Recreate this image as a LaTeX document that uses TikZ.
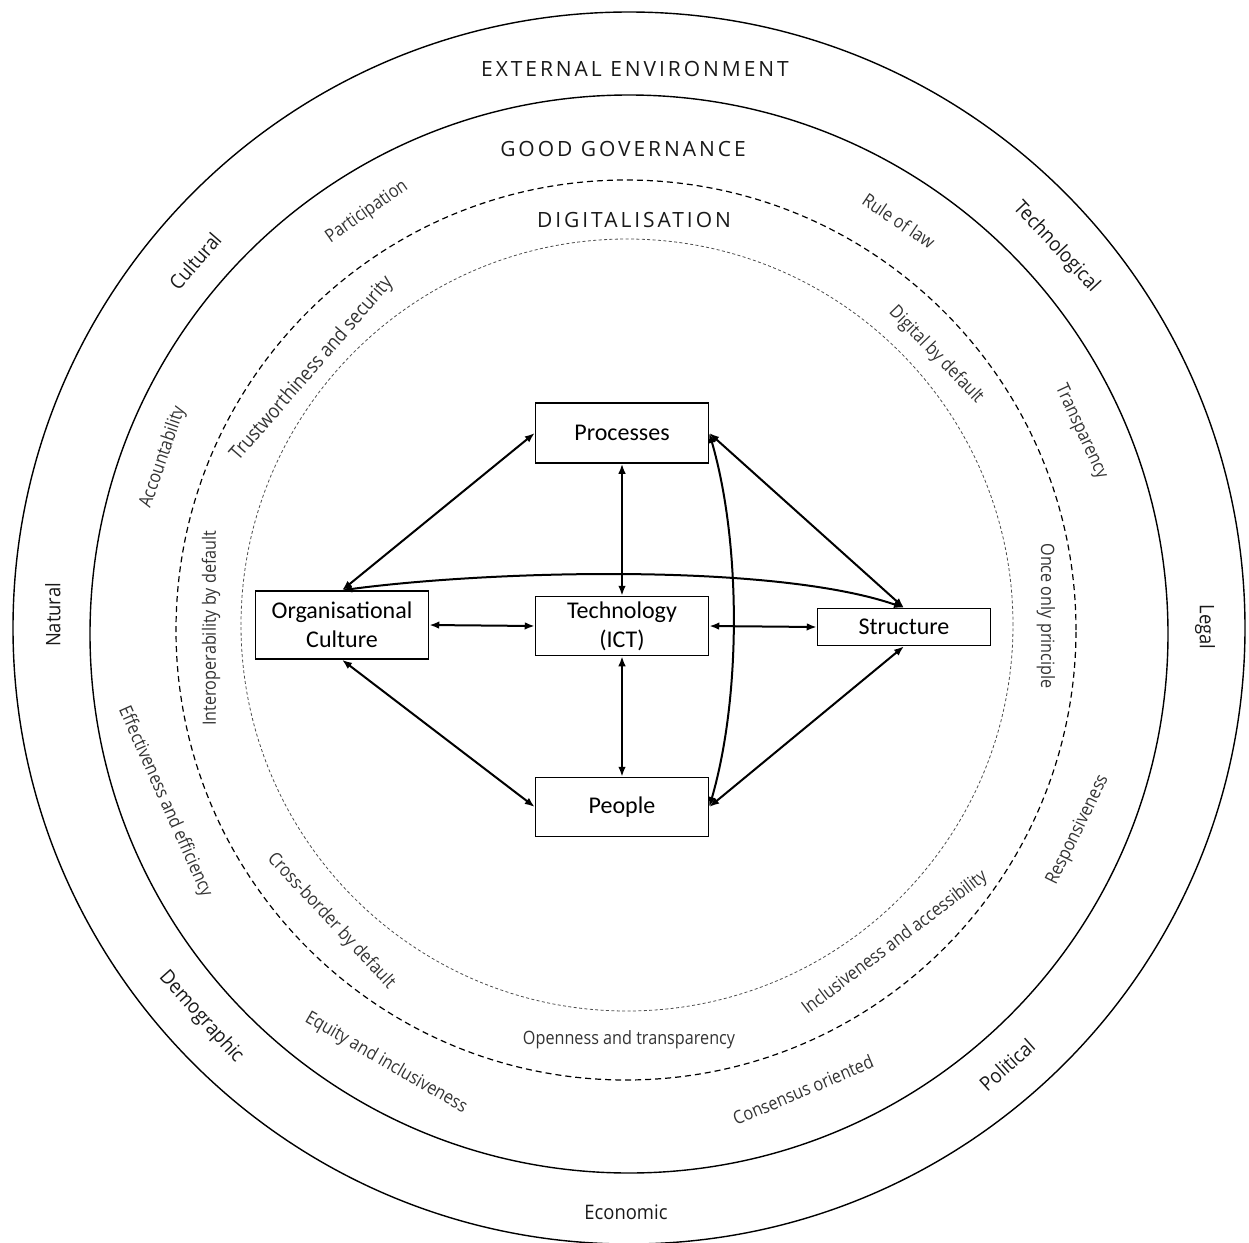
\documentclass[tikz,border=0pt]{standalone}
\usepackage{fontspec}
\setmainfont{Carlito}
\newfontfamily\osreg{Open Sans}[FakeStretch=0.92]
\newfontfamily\oslt{Open Sans}[FakeStretch=0.88]
\newfontfamily\oshead{Open Sans}[LetterSpace=14]
\usetikzlibrary{arrows.meta}
\definecolor{txtgray}{HTML}{333333}
\begin{document}
\begin{tikzpicture}[x=0.5pt,y=-0.5pt,
  >={Latex[length=5pt,width=3.8pt]},
  box/.style={draw=black, line width=0.75pt, minimum width=86.5pt, inner sep=0pt, align=center, font=\fontsize{12}{14.5}\selectfont},
  link/.style={<->, line width=1pt},
  outerlab/.style={font=\osreg\fontsize{10}{12}\selectfont, text=black!90, inner sep=0pt},
  innerlab/.style={font=\oslt\fontsize{9.2}{11}\selectfont, text=txtgray, inner sep=0pt},
  headlab/.style={font=\oshead\fontsize{10.5}{12}\selectfont, text=black!90, inner sep=0pt},
  ring/.style={line width=0.7pt},
  dashring/.style={line width=0.6pt, dash pattern=on 3pt off 2pt},
  dotring/.style={line width=0.4pt, black!70, dash pattern=on 1.5pt off 1.2pt},
]
\useasboundingbox (0,0) rectangle (1249,1243);

% rings
\draw[ring] (629,628) circle[radius=308pt];
\draw[ring] (629,634) circle[radius=269.5pt];
\draw[dashring] (626,630) circle[radius=225pt];
\draw[dotring] (627,625) circle[radius=193pt];

% headings
\node[headlab] (hext) at (635,69) {EXTERNAL ENVIRONMENT};
\node[headlab] (hgov) at (623,149) {GOOD GOVERNANCE};
\node[headlab] (hdig) at (634,220) {DIGITALISATION};

% external environment labels
\node[outerlab, rotate=90]  (lnat) at (53,615) {Natural};
\node[outerlab, rotate=-90] (lleg) at (1205,627) {Legal};
\node[outerlab, rotate=49]  (lcul) at (195,261) {Cultural};
\node[outerlab, rotate=-47] (ltec) at (1056,247) {Technological};
\node[outerlab, rotate=-48] (ldem) at (201,1017) {Demographic};
\node[outerlab, rotate=42]  (lpol) at (1007,1065) {Political};
\node[outerlab]             (leco) at (626,1212) {Economic};

% good governance labels
\node[innerlab, rotate=35]  (gpar) at (367,212) {Participation};
\node[innerlab, rotate=-34] (grul) at (899,221) {Rule of law};
\node[innerlab, rotate=71]  (gacc) at (163,457) {Accountability};
\node[innerlab, rotate=-65] (gtra) at (1081,432) {Transparency};
\node[innerlab, rotate=-66] (geff) at (165,802) {Effectiveness and efficiency};
\node[innerlab, rotate=64]  (gres) at (1078,830) {Responsiveness};
\node[innerlab, rotate=-30] (gequ) at (386,1063) {Equity and inclusiveness};
\node[innerlab, rotate=23]  (gcon) at (803,1090) {Consensus oriented};

% digitalisation labels
\node[innerlab, font=\oslt\fontsize{10}{12}\selectfont, rotate=49] (dtru) at (312,369) {Trustworthiness and security};
\node[innerlab, rotate=-46] (ddig) at (936,355) {Digital by default};
\node[innerlab, rotate=90]  (dint) at (211,628) {Interoperability by default};
\node[innerlab, rotate=-90] (donc) at (1046,616) {Once only principle};
\node[innerlab, rotate=-47] (dcro) at (331,921) {Cross-border by default};
\node[innerlab, rotate=37]  (dinc) at (895,943) {Inclusiveness and accessibility};
\node[innerlab]             (dope) at (629,1040) {Openness and transparency};

% boxes
\node[box, minimum height=30pt]   (pr) at (622,433) {Processes};
\node[box, minimum height=29.5pt] (te) at (622,626) {Technology\\(ICT)};
\node[box, minimum height=34pt]   (oc) at (342,625) {Organisational\\Culture};
\node[box, minimum height=18.5pt] (st) at (904,627) {Structure};
\node[box, minimum height=29.5pt] (pe) at (622,807) {People};

% connectors
\draw[link] (oc.north) -- (pr.west);
\draw[link] (pr.east) -- (st.north);
\draw[link] (oc.south) -- (pe.west);
\draw[link] (st.south) -- (pe.east);
\draw[link] (pr.south) -- (te.north);
\draw[link] (te.south) -- (pe.north);
\draw[link] (oc.east) -- (te.west);
\draw[link] (te.east) -- (st.west);
\draw[link] (oc.north) .. controls +(150,-20) and +(-130,-45) .. (st.north);
\draw[link] (pr.east) .. controls +(32,110) and +(32,-110) .. (pe.east);
\end{tikzpicture}
\end{document}
